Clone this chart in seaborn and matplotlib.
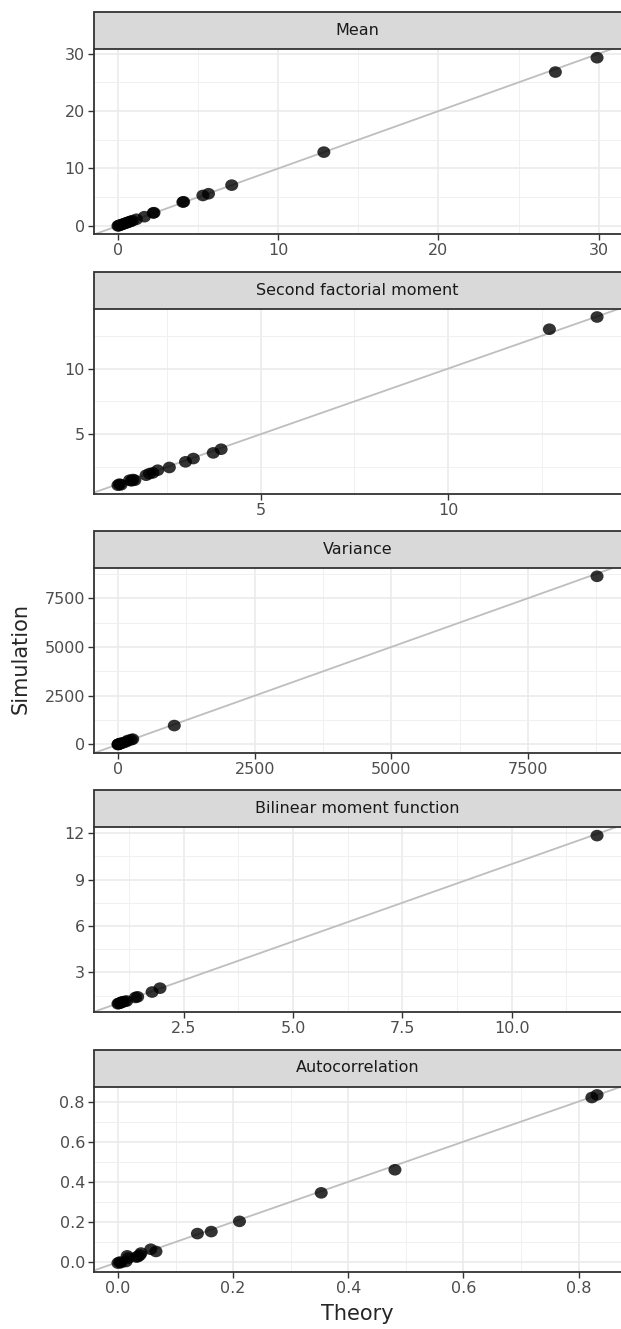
import numpy as np
import pandas as pd
import matplotlib
matplotlib.use("Agg")
import matplotlib.pyplot as plt
from matplotlib.patches import Rectangle
from matplotlib.path import Path
from matplotlib.ticker import MultipleLocator, FormatStrFormatter
import seaborn as sns

sns.set_style("white")
plt.rcParams['font.family'] = ['DejaVu Sans']

stats = ["Mean", "Second factorial moment", "Variance",
         "Bilinear moment function", "Autocorrelation"]

mean_theory = [0.0, 0.05, 0.1, 0.2, 0.3, 0.4, 0.5, 0.6, 0.7, 0.8, 0.9, 1.15,
               1.65, 2.2, 2.25, 4.05, 4.1, 5.3, 5.65, 7.1, 12.85, 27.3, 29.9]
mean_sim = [0.0, 0.05, 0.1, 0.2, 0.3, 0.4, 0.5, 0.6, 0.7, 0.8, 0.9, 1.15,
            1.6, 2.25, 2.3, 4.15, 4.2, 5.3, 5.6, 7.1, 12.85, 26.8, 29.3]

sfm_theory = [1.2, 1.24, 1.28, 1.51, 1.56, 1.6, 1.65, 1.95, 2.04, 2.13, 2.26,
              2.57, 3.0, 3.21, 3.74, 3.95, 12.7, 13.97]
sfm_sim = [1.12, 1.2, 1.15, 1.5, 1.45, 1.55, 1.5, 1.88, 2.0, 2.06, 2.26,
           2.47, 2.9, 3.15, 3.58, 3.86, 13.0, 13.93]

var_theory = [0, 5, 10, 20, 35, 58, 90, 150, 180, 240, 270, 1030, 8760]
var_sim = [0, 5, 12, 25, 35, 70, 80, 140, 205, 240, 275, 970, 8620]

bil_theory = [1.0, 1.02, 1.05, 1.08, 1.1, 1.15, 1.2, 1.4, 1.45, 1.78, 1.96, 11.95]
bil_sim = [0.97, 1.0, 1.02, 1.05, 1.1, 1.12, 1.15, 1.38, 1.42, 1.73, 1.98, 11.84]

acf_theory = [0.0, 0.003, 0.005, 0.014, 0.016, 0.018, 0.032, 0.035, 0.038, 0.04,
              0.057, 0.066, 0.138, 0.162, 0.211, 0.353, 0.481, 0.823, 0.832]
acf_sim = [-0.005, 0.0, -0.003, 0.003, 0.031, 0.02, 0.025, 0.028, 0.035, 0.045,
           0.064, 0.053, 0.142, 0.152, 0.203, 0.345, 0.46, 0.82, 0.833]

x_steps = [10, 5, 2500, 2.5, 0.2]
y_steps = [10, 5, 2500, 3, 0.2]
x_fmt = ["%g", "%g", "%g", "%.1f", "%.1f"]
y_fmt = ["%g", "%g", "%g", "%g", "%.1f"]

theory = [mean_theory, sfm_theory, var_theory, bil_theory, acf_theory]
sim = [mean_sim, sfm_sim, var_sim, bil_sim, acf_sim]

df = pd.concat([pd.DataFrame({"stat": s, "theory": t, "simulation": v})
                for s, t, v in zip(stats, theory, sim)], ignore_index=True)

# dots in the reference are a touch wider than tall
circ = Path.unit_circle()
dot = Path(circ.vertices * np.array([1.12, 1.0]), circ.codes)

g = sns.FacetGrid(df, col="stat", col_order=stats, col_wrap=1,
                  sharex=False, sharey=False, height=1.85, aspect=2.85)
g.map_dataframe(sns.scatterplot, x="theory", y="simulation", color="black",
                alpha=0.8, s=88, marker=dot, edgecolor="none", zorder=3)

fig = g.figure
fig.set_size_inches(6.21, 13.29)
W, H = 621.0, 1329.0
left, right = 94.0, 621.0
panel_h, strip_h = 185.0, 37.0

for i, ax in enumerate(g.axes.flat):
    top = 49.3 + 259.3 * i
    ax.set_position([left / W, 1 - (top + panel_h) / H, (right - left) / W, panel_h / H])
    ax.set_title("")
    ax.set_xlabel("")
    ax.set_ylabel("")
    d = df[df["stat"] == stats[i]]
    for col, setter in (("theory", ax.set_xlim), ("simulation", ax.set_ylim)):
        lo, hi = d[col].min(), d[col].max()
        r = hi - lo
        setter(lo - 0.05 * r, hi + 0.05 * r)
    ax.axline((0, 0), slope=1, color="#BEBEBE", lw=1.3, zorder=2)
    ax.xaxis.set_major_locator(MultipleLocator(x_steps[i]))
    ax.xaxis.set_minor_locator(MultipleLocator(x_steps[i] / 2))
    ax.yaxis.set_major_locator(MultipleLocator(y_steps[i]))
    ax.yaxis.set_minor_locator(MultipleLocator(y_steps[i] / 2))
    ax.xaxis.set_major_formatter(FormatStrFormatter(x_fmt[i]))
    ax.yaxis.set_major_formatter(FormatStrFormatter(y_fmt[i]))
    ax.grid(which="major", color="#EBEBEB", lw=1.2, zorder=0)
    ax.grid(which="minor", color="#F0F0F0", lw=0.7, zorder=0)
    ax.set_axisbelow(True)
    for sp in ("top", "right"):
        ax.spines[sp].set_visible(False)
    for sp in ("left", "bottom"):
        ax.spines[sp].set_color("#333333")
        ax.spines[sp].set_linewidth(1.3)
    ax.tick_params(which="major", length=4, width=1.0, color="#333333",
                   labelsize=11.5, labelcolor="#4D4D4D", pad=2.5, left=True, bottom=True)
    ax.tick_params(which="minor", length=0)
    sh = strip_h / panel_h
    ax.add_patch(Rectangle((0, 1), 1.01, sh, transform=ax.transAxes, clip_on=False,
                           facecolor="#D9D9D9", edgecolor="#333333", lw=1.3, zorder=5))
    ax.text(0.5, 1 + sh / 2, stats[i], transform=ax.transAxes, ha="center",
            va="center", fontsize=11.5, color="#1A1A1A", zorder=6)

fig.text(20.5 / W, 1 - 659 / H, "Simulation", rotation=90, ha="center",
         va="center", fontsize=15)
fig.text((left + right) / 2 / W, 1 - 1314 / H, "Theory", ha="center",
         va="center", fontsize=15)

fig.savefig("out.png", dpi=100)
